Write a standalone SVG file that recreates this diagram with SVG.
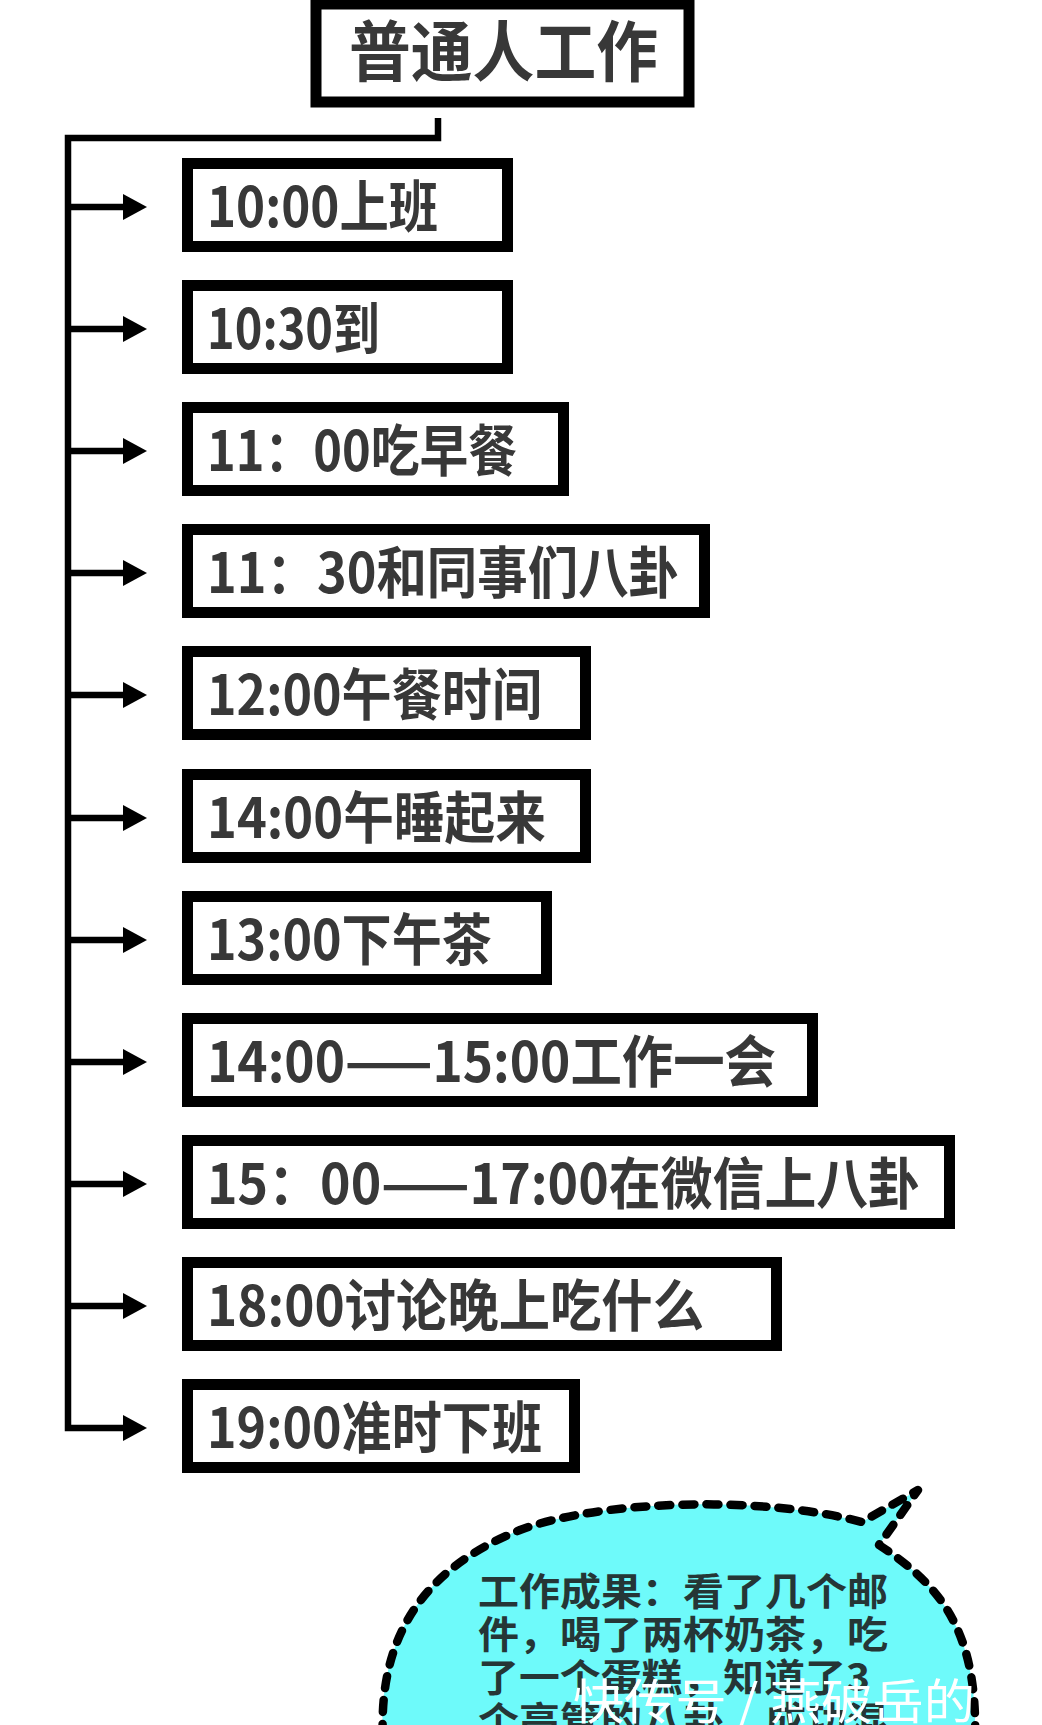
<svg xmlns="http://www.w3.org/2000/svg" width="1042" height="1725" viewBox="0 0 1042 1725">
<style>
.box{fill:#ffffff;stroke:#000000;stroke-width:11}
.lbl{font-family:"Noto Sans CJK SC","Noto Sans",sans-serif;font-weight:700;font-size:56px;fill:#383838}
.title{font-family:"Noto Sans CJK SC","Noto Sans",sans-serif;font-weight:700;font-size:66px;fill:#383838}
.con{fill:none;stroke:#000000;stroke-width:6.5}
.bub{font-family:"Noto Sans CJK SC","Noto Sans",sans-serif;font-weight:700;font-size:38px;fill:#253636}
.wm{font-family:"Noto Sans CJK SC","Noto Sans",sans-serif;font-weight:400;font-size:48px;fill:#ffffff}
</style>
<defs>
<marker id="ah" markerUnits="userSpaceOnUse" markerWidth="24" markerHeight="26" refX="0" refY="13" orient="auto" overflow="visible">
<path d="M0,0 L24,13 L0,26 Z" fill="#000000"/>
</marker>
</defs>
<rect width="1042" height="1725" fill="#ffffff"/>

<g id="title">
<rect class="box" x="316" y="4" width="373" height="98" stroke-width="10"/>
<text class="title" x="349" y="76" textLength="309" lengthAdjust="spacingAndGlyphs">普通人工作</text>
</g>

<g id="connectors">
<path class="con" d="M438 118 V138 H68 V1428 H123" marker-end="url(#ah)"/>
<path class="con" d="M68 207 H123" marker-end="url(#ah)"/>
<path class="con" d="M68 329 H123" marker-end="url(#ah)"/>
<path class="con" d="M68 451 H123" marker-end="url(#ah)"/>
<path class="con" d="M68 573 H123" marker-end="url(#ah)"/>
<path class="con" d="M68 695 H123" marker-end="url(#ah)"/>
<path class="con" d="M68 818 H123" marker-end="url(#ah)"/>
<path class="con" d="M68 940 H123" marker-end="url(#ah)"/>
<path class="con" d="M68 1062 H123" marker-end="url(#ah)"/>
<path class="con" d="M68 1184 H123" marker-end="url(#ah)"/>
<path class="con" d="M68 1306 H123" marker-end="url(#ah)"/>
</g>

<g id="n1"><rect class="box" x="187.5" y="163.5" width="320" height="83"/><text class="lbl" x="207" y="227" textLength="231" lengthAdjust="spacingAndGlyphs">10:00上班</text></g>
<g id="n2"><rect class="box" x="187.5" y="285.5" width="320" height="83"/><text class="lbl" x="207" y="349" textLength="173" lengthAdjust="spacingAndGlyphs">10:30到</text></g>
<g id="n3"><rect class="box" x="187.5" y="407.5" width="376" height="83"/><text class="lbl" x="207" y="471" textLength="310" lengthAdjust="spacingAndGlyphs">11：00吃早餐</text></g>
<g id="n4"><rect class="box" x="187.5" y="529.5" width="517" height="83"/><text class="lbl" x="207" y="593" textLength="472" lengthAdjust="spacingAndGlyphs">11：30和同事们八卦</text></g>
<g id="n5"><rect class="box" x="187.5" y="651.5" width="398" height="83"/><text class="lbl" x="207" y="715" textLength="335" lengthAdjust="spacingAndGlyphs">12:00午餐时间</text></g>
<g id="n6"><rect class="box" x="187.5" y="774.5" width="398" height="83"/><text class="lbl" x="207" y="838" textLength="339" lengthAdjust="spacingAndGlyphs">14:00午睡起来</text></g>
<g id="n7"><rect class="box" x="187.5" y="896.5" width="359" height="83"/><text class="lbl" x="207" y="960" textLength="285" lengthAdjust="spacingAndGlyphs">13:00下午茶</text></g>
<g id="n8"><rect class="box" x="187.5" y="1018.5" width="625" height="83"/><text class="lbl" x="207" y="1082" textLength="569" lengthAdjust="spacingAndGlyphs">14:00——15:00工作一会</text></g>
<g id="n9"><rect class="box" x="187.5" y="1140.5" width="762" height="83"/><text class="lbl" x="207" y="1204" textLength="713" lengthAdjust="spacingAndGlyphs">15：00——17:00在微信上八卦</text></g>
<g id="n10"><rect class="box" x="187.5" y="1262.5" width="589" height="83"/><text class="lbl" x="207" y="1326" textLength="497" lengthAdjust="spacingAndGlyphs">18:00讨论晚上吃什么</text></g>
<g id="n11"><rect class="box" x="187.5" y="1384.5" width="387" height="83"/><text class="lbl" x="207" y="1448" textLength="335" lengthAdjust="spacingAndGlyphs">19:00准时下班</text></g>

<g id="bubble">
<path d="M383 1760 L383 1740 C378 1640 420 1570 520 1530 C600 1500 760 1495 862 1522 L918 1490 L879 1545 C940 1585 978 1630 975 1740 L975 1760 Z" fill="#6EFAFA" stroke="#000000" stroke-width="8.5" stroke-dasharray="12 12" stroke-linecap="round" stroke-linejoin="round"/>
<text class="bub" x="478" y="1605" textLength="410" lengthAdjust="spacingAndGlyphs">工作成果：看了几个邮</text>
<text class="bub" x="478" y="1648" textLength="410" lengthAdjust="spacingAndGlyphs">件，喝了两杯奶茶，吃</text>
<text class="bub" x="478" y="1691" textLength="392" lengthAdjust="spacingAndGlyphs">了一个蛋糕，知道了3</text>
<text class="bub" x="478" y="1734" textLength="410" lengthAdjust="spacingAndGlyphs">个高管的八卦，成功混</text>
<text class="wm" x="573" y="1719" textLength="402" lengthAdjust="spacingAndGlyphs">快传号 / 燕破岳的</text>
</g>
</svg>
